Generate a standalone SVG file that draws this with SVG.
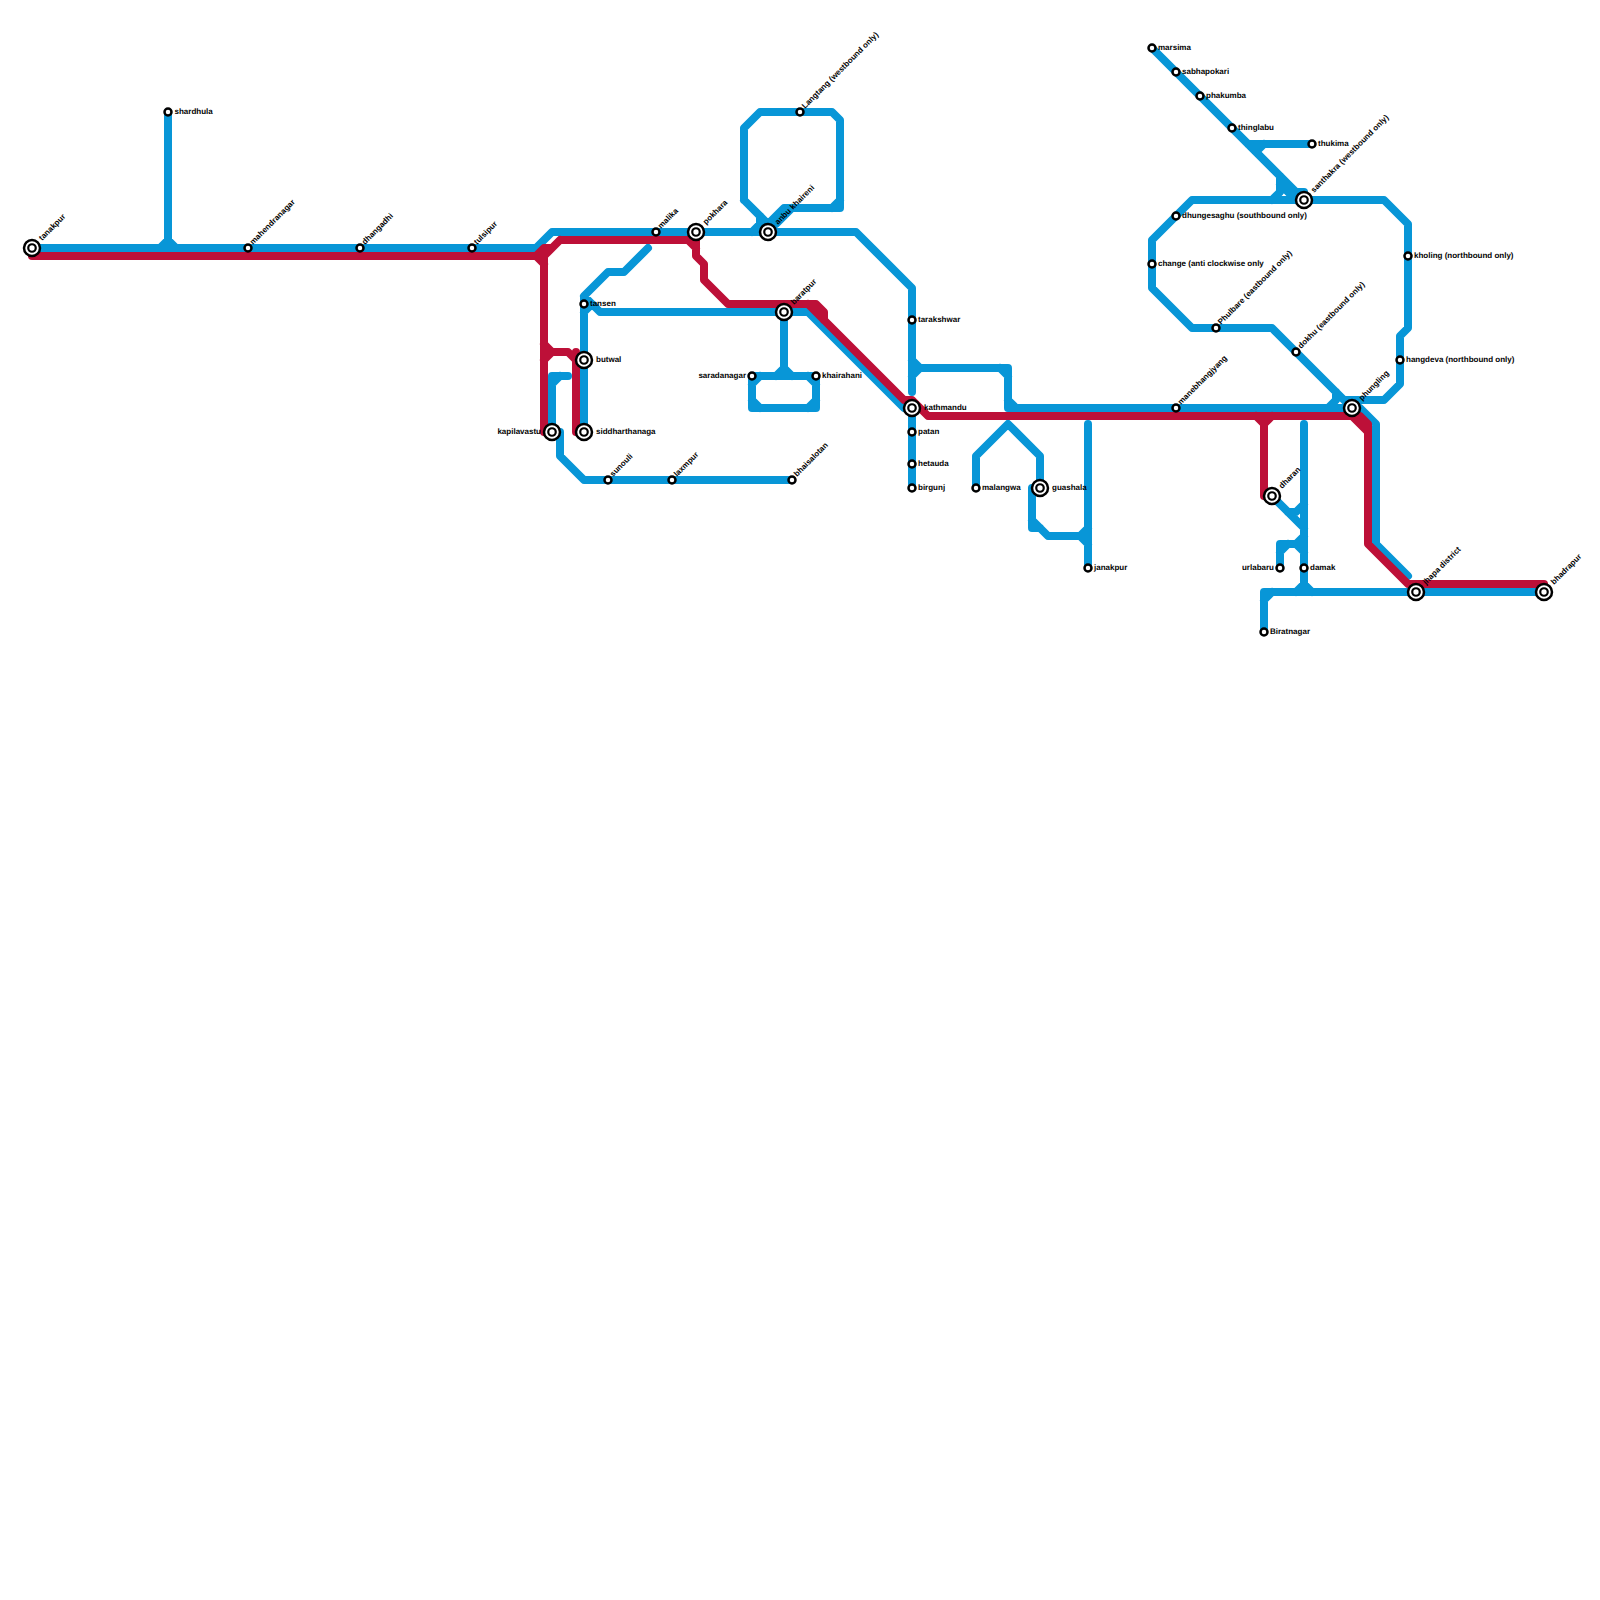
<svg xmlns="http://www.w3.org/2000/svg" width="1600" height="1600" viewBox="0 0 1600 1600">
<style>
.l{fill:none;stroke-width:8;stroke-linecap:round;stroke-linejoin:round}
.b{stroke:#0896d7}.r{stroke:#bd1038}
.s{fill:#fff;stroke:#000;stroke-width:2.500}
.o{fill:#fff;stroke:#000;stroke-width:2.500}
text{font-family:"Liberation Sans",Arial,sans-serif;font-size:8px;font-weight:700;fill:#000;text-rendering:geometricPrecision}
.e{text-anchor:end}
</style>
<defs>
<g id="st"><circle class="s" r="3.500"/></g>
<g id="ic"><circle class="o" r="8"/><circle r="3.750" fill="#fff" stroke="#000" stroke-width="2.200"/></g>
</defs>
<rect width="1600" height="1600" fill="#fff"/>
<g id="connectors">
<path class="l b" d="M32,248H536L552,232H856L912,288V392M168,112V240M160,248L168,240L176,248
M752,232L760,224V216M744,200V128L760,112H832L840,120V208H784L768,224V232M744,200L768,224M792,208L776,224M832,208L840,200
M648,248L624,272H608L584,296V432M584,296L600,312H808L904,408H912M584,312L592,304
M552,432V376H568M552,384L560,376M560,432V456L584,480H792
M784,312V368M776,376L784,368L792,376M752,376H816V408H752ZM752,384L760,376M808,376L816,384M752,400L760,408M808,408L816,400
M912,408V488M912,360L920,368H1008V408H1352M912,376L920,368M1000,368L1008,376M1008,400L1016,408
M976,488V456L1008,424L1040,456V488M1032,488V528H1040M1032,520L1048,536H1080L1088,528M1080,536L1088,544M1088,424V568
M1352,408H1360L1376,424V544L1408,576
M1304,424V592M1272,496L1304,528M1288,512H1296L1304,504M1304,536L1296,544H1280V568M1296,544L1304,552M1280,552L1288,544M1296,592L1304,584L1312,592M1264,632V592H1544M1264,600L1272,592
M1152,48L1304,200M1248,144H1312M1256,152L1264,144M1280,176V192L1272,200M1280,184L1296,200M1296,192H1304V200
M1304,200H1384L1408,224V328L1400,336V384L1384,400H1344L1352,408M1336,392V400L1328,408M1304,200H1192L1152,240V288L1192,328H1272L1352,408"/>
<path class="l r" d="M32,256H536L544,248H552L560,240H696V256L704,264V280L728,304H816L824,312V320M544,256L560,240M536,256L544,264M544,256V432M544,344L552,352H568L576,360V432M544,360L552,352M576,352V360M688,240L696,248
M808,304L816,312L904,400H912L928,416H1352L1368,432V544L1408,584H1544M1256,416L1264,424L1272,416M1264,416V496M1352,416H1360L1368,424V432"/>
</g>
<g id="tanakpur"><use href="#ic" x="32" y="248"/><text transform="translate(42,241) rotate(-45)">tanakpur</text></g>
<g id="shardhula"><use href="#st" x="168" y="112"/><text x="174.500" y="114">shardhula</text></g>
<g id="mahendranagar"><use href="#st" x="248" y="248"/><text transform="translate(253,245) rotate(-45)">mahendranagar</text></g>
<g id="dhangadhi"><use href="#st" x="360" y="248"/><text transform="translate(365,245) rotate(-45)">dhangadhi</text></g>
<g id="tulsipur"><use href="#st" x="472" y="248"/><text transform="translate(477,245) rotate(-45)">tulsipur</text></g>
<g id="malika"><use href="#st" x="656" y="232"/><text transform="translate(661,229) rotate(-45)">malika</text></g>
<g id="pokhara"><use href="#ic" x="696" y="232"/><text transform="translate(706,225) rotate(-45)">pokhara</text></g>
<g id="anbu"><use href="#ic" x="768" y="232"/><text transform="translate(778,225) rotate(-45)">anbu khaireni</text></g>
<g id="langtang"><use href="#st" x="800" y="112"/><text transform="translate(805,109) rotate(-45)">Langtang (westbound only)</text></g>
<g id="baratpur"><use href="#ic" x="784" y="312"/><text transform="translate(794,305) rotate(-45)">baratpur</text></g>
<g id="tansen"><use href="#st" x="584" y="304"/><text x="590" y="306">tansen</text></g>
<g id="butwal"><use href="#ic" x="584" y="360"/><text x="596" y="362">butwal</text></g>
<g id="siddharthanaga"><use href="#ic" x="584" y="432"/><text x="596" y="434">siddharthanaga</text></g>
<g id="kapilavastu"><use href="#ic" x="552" y="432"/><text class="e" x="541" y="434">kapilavastu</text></g>
<g id="sunouli"><use href="#st" x="608" y="480"/><text transform="translate(613,477) rotate(-45)">sunouli</text></g>
<g id="laxmpur"><use href="#st" x="672" y="480"/><text transform="translate(677,477) rotate(-45)">laxmpur</text></g>
<g id="bhaisalotan"><use href="#st" x="792" y="480"/><text transform="translate(797,477) rotate(-45)">bhaisalotan</text></g>
<g id="saradanagar"><use href="#st" x="752" y="376"/><text class="e" x="746" y="378">saradanagar</text></g>
<g id="khairahani"><use href="#st" x="816" y="376"/><text x="822" y="378">khairahani</text></g>
<g id="tarakshwar"><use href="#st" x="912" y="320"/><text x="918" y="322">tarakshwar</text></g>
<g id="kathmandu"><use href="#ic" x="912" y="408"/><text x="924" y="410">kathmandu</text></g>
<g id="patan"><use href="#st" x="912" y="432"/><text x="918" y="434">patan</text></g>
<g id="hetauda"><use href="#st" x="912" y="464"/><text x="918" y="466">hetauda</text></g>
<g id="birgunj"><use href="#st" x="912" y="488"/><text x="918" y="490">birgunj</text></g>
<g id="malangwa"><use href="#st" x="976" y="488"/><text x="982" y="490">malangwa</text></g>
<g id="guashala"><use href="#ic" x="1040" y="488"/><text x="1052" y="490">guashala</text></g>
<g id="janakpur"><use href="#st" x="1088" y="568"/><text x="1094" y="570">janakpur</text></g>
<g id="manebhangjyang"><use href="#st" x="1176" y="408"/><text transform="translate(1181,405) rotate(-45)">manebhangjyang</text></g>
<g id="marsima"><use href="#st" x="1152" y="48"/><text x="1158" y="50">marsima</text></g>
<g id="sabhapokari"><use href="#st" x="1176" y="72"/><text x="1182" y="74">sabhapokari</text></g>
<g id="phakumba"><use href="#st" x="1200" y="96"/><text x="1206" y="98">phakumba</text></g>
<g id="thinglabu"><use href="#st" x="1232" y="128"/><text x="1238" y="130">thinglabu</text></g>
<g id="thukima"><use href="#st" x="1312" y="144"/><text x="1318" y="146">thukima</text></g>
<g id="santhakra"><use href="#ic" x="1304" y="200"/><text transform="translate(1314,193) rotate(-45)">santhakra (westbound only)</text></g>
<g id="dhungesaghu"><use href="#st" x="1176" y="216"/><text x="1182" y="218">dhungesaghu (southbound only)</text></g>
<g id="change"><use href="#st" x="1152" y="264"/><text x="1158" y="266">change (anti clockwise only</text></g>
<g id="phulbare"><use href="#st" x="1216" y="328"/><text transform="translate(1221,325) rotate(-45)">Phulbare (eastbound only)</text></g>
<g id="dokhu"><use href="#st" x="1296" y="352"/><text transform="translate(1301,349) rotate(-45)">dokhu (eastbound only)</text></g>
<g id="kholing"><use href="#st" x="1408" y="256"/><text x="1414" y="258">kholing (northbound only)</text></g>
<g id="hangdeva"><use href="#st" x="1400" y="360"/><text x="1406" y="362">hangdeva (northbound only)</text></g>
<g id="phungling"><use href="#ic" x="1352" y="408"/><text transform="translate(1362,401) rotate(-45)">phungling</text></g>
<g id="dharan"><use href="#ic" x="1272" y="496"/><text transform="translate(1282,489) rotate(-45)">dharan</text></g>
<g id="urlabaru"><use href="#st" x="1280" y="568"/><text class="e" x="1274" y="570">urlabaru</text></g>
<g id="damak"><use href="#st" x="1304" y="568"/><text x="1310" y="570">damak</text></g>
<g id="biratnagar"><use href="#st" x="1264" y="632"/><text x="1270" y="634">Biratnagar</text></g>
<g id="jhapa"><use href="#ic" x="1416" y="592"/><text transform="translate(1426,585) rotate(-45)">jhapa district</text></g>
<g id="bhadrapur"><use href="#ic" x="1544" y="592"/><text transform="translate(1554,585) rotate(-45)">bhadrapur</text></g>
</svg>
